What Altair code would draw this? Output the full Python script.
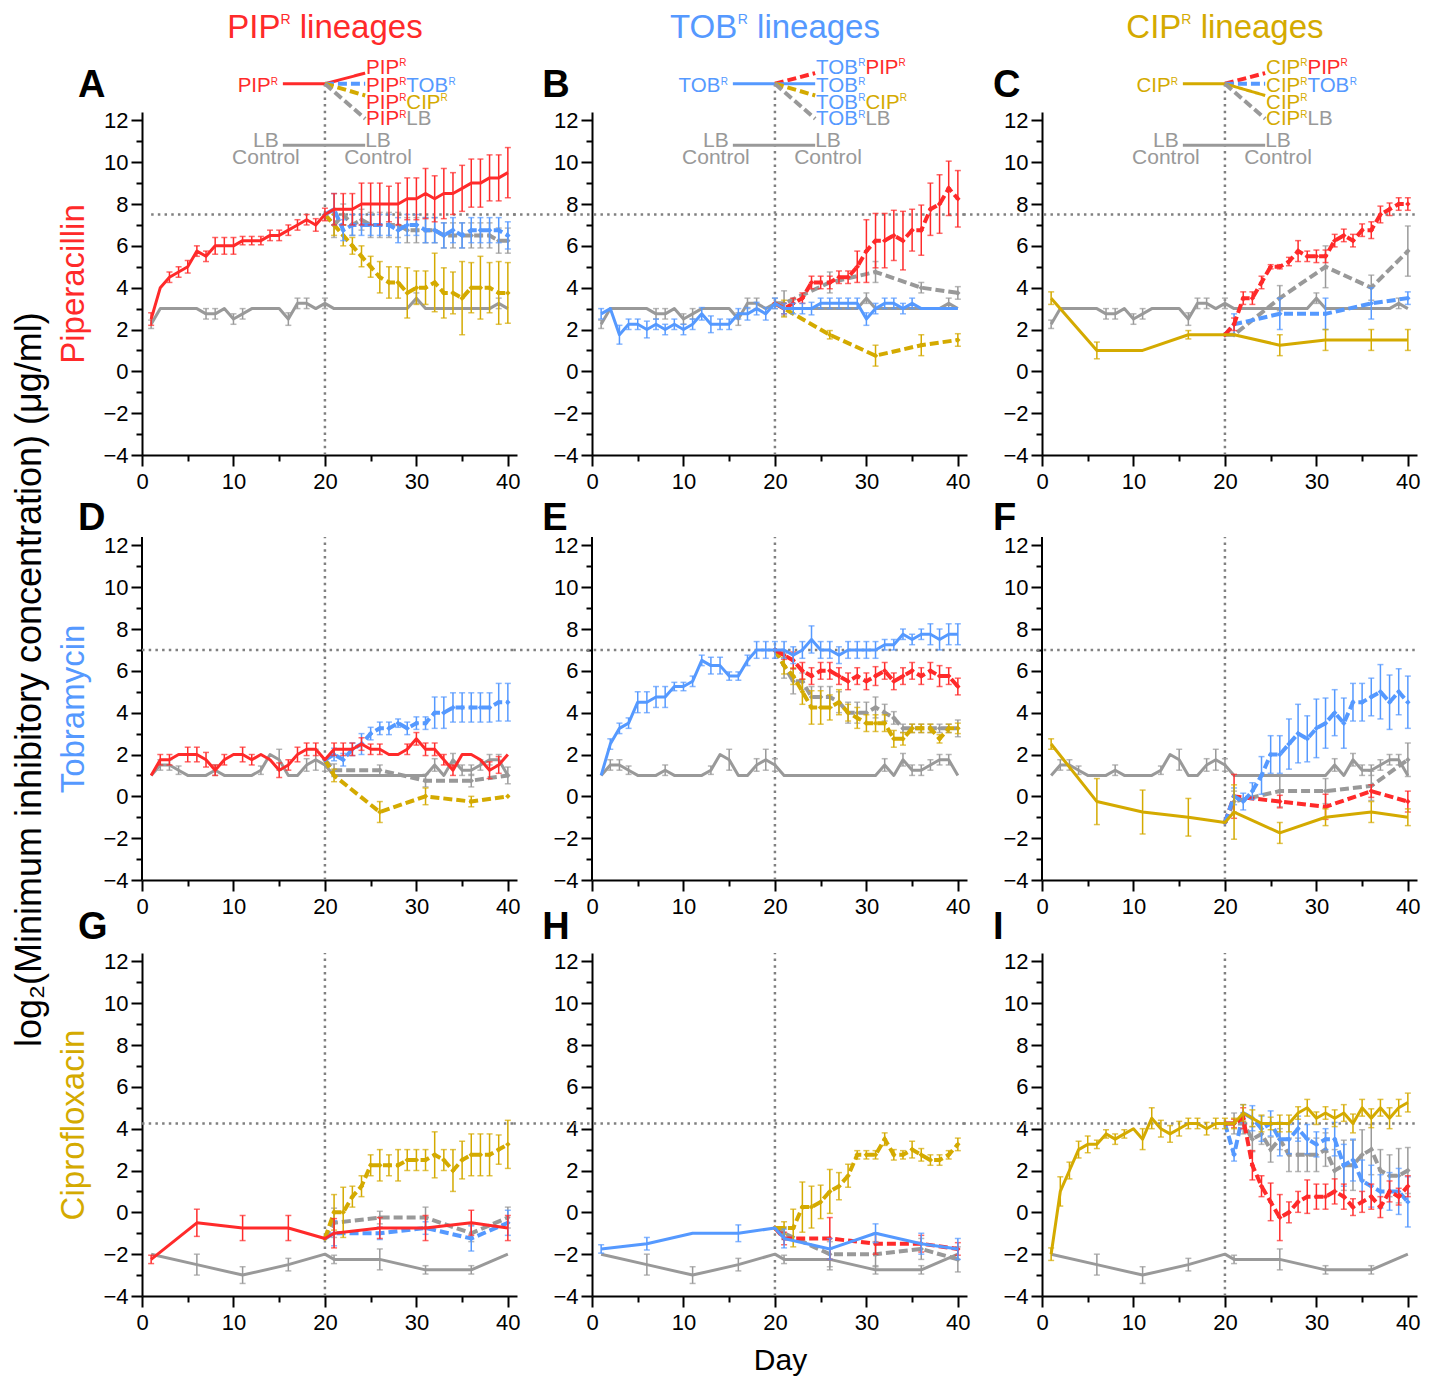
import altair as alt
import pandas as pd

FONT = "Liberation Sans"
RED = "#FF2A2A"
BLUE = "#5599FF"
GOLD = "#D4AA00"
GRAY = "#999999"
GUIDE = "#808080"

PLOT_W = 375
PLOT_H = [343, 352, 343]
X_DOMAIN = [0, 41]
Y_DOMAINS = [[-4, 12.4], [-4, 12.83], [-4, 12.4]]
Y_AXIS_TOP = 12.4
X_TICKS = [0, 5, 10, 15, 20, 25, 30, 35, 40]
Y_TICKS = [-4, -3, -2, -1, 0, 1, 2, 3, 4, 5, 6, 7, 8, 9, 10, 11, 12]

DAYS_ALL = [1, 2, 3, 4, 5, 6, 7, 8, 9, 10, 11, 12, 13, 14, 15, 16, 17, 18, 19, 20,
            21, 22, 23, 24, 25, 26, 27, 28, 29, 30, 31, 32, 33, 34, 35, 36, 37, 38, 39, 40]
DAYS_POST = [20, 21, 22, 23, 24, 25, 26, 27, 28, 29, 30, 31, 32, 33, 34, 35, 36, 37, 38, 39, 40]
SPARSE_ALL = [1, 6, 11, 16, 20, 21, 26, 31, 36, 40]
SPARSE_POST = [20, 21, 26, 31, 36, 40]

# ---------------- Row 1 : piperacillin MIC ----------------
LB_PIP = [2.25, 3, 3, 3, 3, 3, 2.75, 2.75, 3, 2.5,
          2.75, 3, 3, 3, 3, 2.5, 3.25, 3.25, 3, 3.25,
          3, 3, 3, 3, 3, 3, 3, 3, 3, 3.5,
          3, 3, 3, 3, 3, 3, 3, 3, 3.25, 3]
LB_PIP_ERR = [0.2, 0, 0, 0, 0, 0, 0.25, 0.25, 0, 0.25,
              0.25, 0, 0, 0, 0, 0.3, 0.25, 0.25, 0, 0.25,
              0, 0, 0, 0, 0, 0, 0, 0, 0, 0.25,
              0, 0, 0, 0, 0, 0, 0, 0, 0.25, 0]

A_PIP = [2.5, 4.0, 4.5, 4.75, 5.0, 5.75, 5.5, 6.0, 6.0, 6.0,
         6.25, 6.25, 6.25, 6.5, 6.5, 6.75, 7.0, 7.25, 7.0, 7.5,
         7.75, 7.75, 7.75, 8.0, 8.0, 8.0, 8.0, 8.0, 8.25, 8.25,
         8.5, 8.25, 8.5, 8.5, 8.75, 9.0, 9.0, 9.25, 9.25, 9.5]
A_PIP_ERR = [0.3, 0, 0.25, 0.25, 0.3, 0.25, 0.25, 0.4, 0.4, 0.4,
             0.2, 0.2, 0.2, 0.25, 0.25, 0.25, 0.25, 0.25, 0.3, 0.3,
             0.75, 0.75, 0.75, 1.0, 1.0, 1.0, 0.85, 1.0, 1.0, 1.0,
             1.2, 1.1, 1.2, 1.0, 1.1, 1.15, 1.15, 1.1, 1.1, 1.2]
A_TOB = [7.5, 7.75, 6.75, 7.0, 7.0, 7.0, 7.0, 7.0, 6.75, 7.0, 7.0,
         6.75, 6.75, 6.5, 6.75, 6.5, 6.75, 6.75, 6.75, 6.75, 6.5]
A_TOB_ERR = [0, 0.75, 0.5, 0.5, 0.5, 0.5, 0.5, 0.5, 0.6, 0.5, 0.5,
             0.6, 0.6, 0.6, 0.6, 0.6, 0.6, 0.6, 0.6, 0.6, 0.65]
A_LB = [7.5, 7.0, 7.5, 7.0, 7.25, 7.0, 7.0, 7.0, 7.0, 6.75, 6.75,
        6.75, 6.75, 6.5, 6.5, 6.5, 6.5, 6.5, 6.5, 6.25, 6.25]
A_LB_ERR = [0, 0.6, 0.5, 0.5, 0.5, 0.6, 0.6, 0.6, 0.6, 0.6, 0.6,
            0.6, 0.6, 0.6, 0.6, 0.6, 0.6, 0.6, 0.6, 0.6, 0.6]
A_CIP = [7.5, 7.0, 6.5, 6.0, 5.5, 5.0, 4.5, 4.25, 4.25, 3.75, 4.0,
         4.0, 4.25, 3.75, 3.75, 3.5, 4.0, 4.0, 4.0, 3.75, 3.75]
A_CIP_ERR = [0, 0.5, 0.5, 0.4, 0.5, 0.5, 0.75, 0.75, 0.75, 1.2, 0.8,
             0.8, 1.4, 1.2, 1.0, 1.75, 1.2, 1.5, 1.2, 1.5, 1.45]

B_TOB = [2.75, 3.0, 1.75, 2.25, 2.25, 2.0, 2.25, 2.0, 2.25, 2.0,
         2.25, 2.75, 2.25, 2.25, 2.25, 2.75, 2.75, 3.0, 2.75, 3.25,
         3.0, 3.0, 3.0, 3.0, 3.25, 3.25, 3.25, 3.25, 3.25, 2.5,
         3.0, 3.25, 3.25, 3.0, 3.25, 3.0, 3.0, 3.0, 3.0, 3.0]
B_TOB_ERR = [0.25, 0, 0.45, 0.25, 0.25, 0.4, 0.25, 0.25, 0.25, 0.25,
             0.25, 0.3, 0.4, 0.25, 0.25, 0.25, 0.3, 0.3, 0.3, 0.25,
             0.25, 0.25, 0.25, 0.3, 0.25, 0.25, 0.25, 0.25, 0.25, 0.3,
             0.25, 0.25, 0.25, 0.25, 0.25, 0, 0, 0, 0, 0]
B_PIP = [3.25, 3.0, 3.25, 3.5, 4.25, 4.25, 4.25, 4.5, 4.5, 5.0, 5.75,
         6.25, 6.25, 6.5, 6.25, 6.75, 6.75, 7.75, 8.0, 8.75, 8.25]
B_PIP_ERR = [0, 0.25, 0.25, 0.25, 0.3, 0.3, 0.3, 0.3, 0.3, 0.75, 1.5,
             1.3, 1.3, 1.2, 1.4, 1.0, 1.2, 1.25, 1.4, 1.3, 1.35]
B_LB = [3.25, 3.25, 4.25, 4.75, 4.0, 3.75]
B_LB_ERR = [0, 0.6, 0.5, 0.5, 0.25, 0.3]
B_CIP = [3.25, 3.0, 1.75, 0.75, 1.25, 1.5]
B_CIP_ERR = [0, 0.4, 0.2, 0.5, 0.5, 0.3]

C_CIP = [3.5, 1.0, 1.0, 1.75, 1.75, 1.75, 1.25, 1.5, 1.5, 1.5]
C_CIP_ERR = [0.3, 0.4, 0, 0.2, 0, 0, 0.5, 0.5, 0.5, 0.5]
C_PIP = [1.75, 2.25, 3.5, 3.5, 4.25, 5.0, 5.0, 5.25, 5.75, 5.5, 5.5,
         5.5, 6.25, 6.5, 6.25, 6.75, 6.75, 7.5, 7.75, 8.0, 8.0]
C_PIP_ERR = [0, 0.3, 0.3, 0.3, 0.3, 0.1, 0.1, 0.2, 0.5, 0.25, 0.3,
             0.3, 0.3, 0.3, 0.3, 0.3, 0.4, 0.4, 0.3, 0.3, 0.3]
C_TOB = [1.75, 2.25, 2.75, 2.75, 3.25, 3.5]
C_TOB_ERR = [0, 0.5, 0.75, 0.75, 0.75, 0.3]
C_LB = [1.75, 1.75, 3.5, 5.0, 4.0, 5.75]
C_LB_ERR = [0, 0, 0.6, 1.0, 0.6, 1.2]

# ---------------- Row 2 : tobramycin MIC ----------------
LB_TOB = [1.0, 1.5, 1.5, 1.25, 1.0, 1.0, 1.0, 1.25, 1.0, 1.0,
          1.0, 1.0, 1.25, 2.0, 1.75, 1.0, 1.0, 1.5, 1.75, 1.5,
          1.0, 1.0, 1.0, 1.0, 1.0, 1.0, 1.0, 1.0, 1.0, 1.0,
          1.0, 1.5, 1.0, 1.75, 1.25, 1.25, 1.5, 1.75, 1.75, 1.0]
LB_TOB_ERR = [0, 0.25, 0.25, 0.2, 0, 0, 0, 0.25, 0, 0,
              0, 0, 0.2, 0, 0.5, 0, 0, 0.3, 0.5, 0.3,
              0, 0, 0, 0, 0, 0, 0, 0, 0, 0,
              0, 0.3, 0, 0.3, 0.25, 0.25, 0.25, 0.25, 0.25, 0]

D_PIP = [1.0, 1.75, 1.75, 2.0, 2.0, 2.0, 1.75, 1.25, 1.75, 2.0,
         2.0, 1.75, 2.0, 1.75, 1.25, 1.5, 2.0, 2.25, 2.25, 1.75,
         2.25, 2.25, 2.25, 2.5, 2.25, 2.25, 2.0, 2.0, 2.25, 2.75,
         2.25, 2.25, 1.75, 1.25, 2.0, 2.0, 1.75, 1.25, 1.5, 2.0]
D_PIP_ERR = [0, 0.25, 0.25, 0, 0.35, 0.35, 0.35, 0.25, 0.25, 0,
             0.35, 0.25, 0, 0, 0.35, 0.25, 0.35, 0.3, 0.3, 0,
             0.3, 0.3, 0.3, 0.3, 0.25, 0.25, 0, 0, 0.25, 0.3,
             0.3, 0.3, 0.25, 0.25, 0, 0, 0, 0.4, 0.4, 0]
D_TOB = [1.75, 2.0, 1.75, 2.25, 2.5, 3.0, 3.25, 3.25, 3.5, 3.25, 3.5,
         3.5, 4.0, 4.0, 4.25, 4.25, 4.25, 4.25, 4.25, 4.5, 4.5]
D_TOB_ERR = [0, 0.3, 0.3, 0.3, 0.5, 0.3, 0.3, 0.3, 0.2, 0.3, 0.3,
             0.3, 0.75, 0.75, 0.7, 0.7, 0.7, 0.7, 0.7, 0.9, 0.9]
D_LB = [1.75, 1.25, 1.25, 0.75, 0.75, 1.0]
D_LB_ERR = [0, 0.3, 0.25, 0.3, 0.3, 0.4]
D_CIP = [1.75, 1.0, -0.75, 0.0, -0.25, 0.0]
D_CIP_ERR = [0, 0.3, 0.5, 0.4, 0.25, 0]

E_TOB = [1.0, 2.5, 3.25, 3.5, 4.5, 4.5, 4.75, 4.75, 5.25, 5.25,
         5.5, 6.5, 6.25, 6.25, 5.75, 5.75, 6.5, 7.0, 7.0, 7.0,
         7.0, 6.75, 7.0, 7.5, 7.0, 7.0, 6.75, 7.0, 7.0, 7.0,
         7.0, 7.25, 7.25, 7.75, 7.5, 7.75, 7.75, 7.5, 7.75, 7.75]
E_TOB_ERR = [0, 0.25, 0.25, 0.25, 0.5, 0.5, 0.5, 0.5, 0.2, 0.2,
             0.25, 0.25, 0.4, 0.4, 0.2, 0.2, 0.25, 0.4, 0.4, 0.4,
             0.4, 0.4, 0.4, 0.65, 0.4, 0.4, 0.4, 0.4, 0.4, 0.4,
             0.4, 0.25, 0.25, 0.25, 0.25, 0.25, 0.5, 0.5, 0.5, 0.5]
E_PIP = [7.0, 6.75, 6.5, 6.0, 5.75, 6.0, 6.0, 5.75, 5.5, 5.75, 5.5,
         5.75, 6.0, 5.5, 5.75, 6.0, 5.75, 6.0, 5.75, 5.75, 5.25]
E_PIP_ERR = [0, 0.2, 0.4, 0.4, 0.4, 0.4, 0.4, 0.4, 0.4, 0.4, 0.4,
             0.45, 0.4, 0.4, 0.4, 0.4, 0.4, 0.4, 0.5, 0.4, 0.4]
E_LB = [7.0, 6.25, 5.5, 5.5, 4.75, 4.75, 4.75, 4.5, 4.0, 4.0, 4.0,
        4.25, 4.0, 3.75, 3.25, 3.25, 3.25, 3.25, 3.25, 3.25, 3.25]
E_LB_ERR = [0, 0.6, 0.6, 0.4, 0.5, 0.5, 0.5, 0.5, 0.5, 0.5, 0.5,
            0.5, 0.4, 0.3, 0.2, 0.2, 0.2, 0.2, 0.2, 0.2, 0.4]
E_CIP = [7.0, 6.25, 5.75, 5.0, 4.25, 4.25, 4.25, 4.5, 4.0, 3.75, 3.5,
         3.5, 3.5, 2.75, 2.75, 3.25, 3.25, 3.25, 2.75, 3.25, 3.25]
E_CIP_ERR = [0, 0.4, 0.4, 0.6, 0.8, 0.8, 0.6, 0.6, 0.4, 0.5, 0.4,
             0.4, 0.4, 0.4, 0.3, 0.2, 0.2, 0.2, 0.2, 0.2, 0.25]

F_CIP = [2.5, -0.25, -0.75, -1.0, -1.25, -0.75, -1.75, -1.0, -0.75, -1.0]
F_CIP_ERR = [0.25, 1.1, 1.05, 0.9, 0, 1.3, 0.5, 0.4, 0.5, 0.4]
F_TOB = [-1.25, 0.0, -0.25, 0.25, 1.0, 2.0, 2.0, 2.5, 3.0, 2.75, 3.25,
         3.5, 4.0, 3.5, 4.5, 4.5, 4.75, 5.0, 4.5, 5.0, 4.5]
F_TOB_ERR = [0, 0.4, 0.4, 0.4, 0.9, 0.9, 0.9, 1.2, 1.4, 1.1, 1.4,
             1.2, 1.1, 1.2, 0.9, 0.9, 0.9, 1.3, 1.3, 1.1, 1.25]
F_PIP = [-1.25, 0.0, -0.25, -0.5, 0.25, -0.25]
F_PIP_ERR = [0, 1.05, 0.3, 0.6, 0.3, 0.5]
F_LB = [-1.25, -0.25, 0.25, 0.25, 0.5, 1.75]
F_LB_ERR = [0, 0.5, 0.75, 0.6, 0.7, 0.8]

# ---------------- Row 3 : ciprofloxacin MIC ----------------
LB_CIP = [-2.0, -2.5, -3.0, -2.5, -2.0, -2.25, -2.25, -2.75, -2.75, -2.0]
LB_CIP_ERR = [0, 0.5, 0.4, 0.3, 0, 0.2, 0.5, 0.2, 0.2, 0]

G_PIP = [-2.25, -0.5, -0.75, -0.75, -1.25, -1.0, -0.75, -0.75, -0.5, -0.75]
G_PIP_ERR = [0.2, 0.65, 0.6, 0.6, 0, 0.7, 0.5, 0.6, 0.6, 0.6]
G_TOB = [-1.25, -1.0, -1.0, -0.75, -1.25, -0.5]
G_TOB_ERR = [0, 0.6, 0.3, 0.3, 0.6, 0.6]
G_LB = [-1.25, -0.5, -0.25, -0.25, -1.0, -0.25]
G_LB_ERR = [0, 0.7, 0.3, 0.5, 0.4, 0.5]
G_CIP = [-1.25, 0.0, 0.0, 0.75, 1.25, 2.25, 2.25, 2.25, 2.25, 2.5, 2.5,
         2.5, 2.75, 2.5, 2.0, 2.5, 2.75, 2.75, 2.75, 3.0, 3.25]
G_CIP_ERR = [0, 0.85, 1.2, 0.5, 0.5, 0.5, 0.75, 0.5, 0.75, 0.5, 0.5,
             0.5, 1.1, 0.5, 1.0, 0.9, 1.0, 1.0, 1.0, 0.7, 1.15]

H_TOB = [-1.75, -1.5, -1.0, -1.0, -0.75, -1.25, -1.75, -1.0, -1.5, -1.75]
H_TOB_ERR = [0.2, 0.3, 0, 0.4, 0, 0.45, 0.5, 0.45, 0.5, 0.5]
H_PIP = [-0.75, -1.25, -1.25, -1.5, -1.5, -1.75]
H_PIP_ERR = [0, 0.3, 1.0, 0.5, 0.4, 0.3]
H_LB = [-0.75, -1.0, -2.0, -2.0, -1.75, -2.25]
H_LB_ERR = [0, 0.3, 0.6, 0.6, 0.5, 0.6]
H_CIP = [-0.75, -0.75, -0.75, 0.25, 0.25, 0.5, 1.0, 1.25, 1.75, 2.75, 2.75,
         2.75, 3.5, 2.75, 2.75, 3.0, 2.75, 2.5, 2.5, 2.75, 3.25]
H_CIP_ERR = [0, 0.3, 0.9, 1.2, 1.0, 0.8, 1.05, 0.65, 0.55, 0.2, 0.2,
             0.2, 0.3, 0.25, 0.2, 0.4, 0.3, 0.25, 0.25, 0.2, 0.3]

I_CIP = [-2.0, 1.0, 2.0, 3.0, 3.25, 3.25, 3.75, 3.5, 3.75, 4.0,
         3.5, 4.5, 4.0, 3.75, 4.0, 4.25, 4.25, 4.0, 4.25, 4.25,
         4.25, 4.75, 4.5, 4.25, 4.25, 4.25, 4.25, 4.75, 5.0, 4.5,
         4.75, 4.5, 4.75, 4.25, 5.0, 4.5, 5.0, 4.5, 5.0, 5.25]
I_CIP_ERR = [0.3, 0.7, 0.4, 0.4, 0.4, 0.2, 0.2, 0.25, 0.2, 0,
             0.5, 0.5, 0.4, 0.4, 0.35, 0.25, 0.25, 0.3, 0.25, 0.25,
             0.25, 0.4, 0.4, 0.4, 0.3, 0.4, 0.4, 0.3, 0.4, 0.3,
             0.3, 0.4, 0.4, 0.45, 0.4, 0.45, 0.4, 0.5, 0.4, 0.45]
I_PIP = [4.25, 4.25, 4.5, 2.25, 1.25, 0.5, -0.25, 0.0, 0.5, 0.75, 0.75,
         0.75, 1.0, 0.75, 0.25, 0.5, 0.75, 0.25, 1.0, 0.75, 1.25]
I_PIP_ERR = [0, 0.2, 0.5, 0.7, 0.5, 0.9, 1.1, 0.5, 0.5, 0.8, 0.6,
             0.6, 0.6, 0.6, 0.4, 0.5, 0.6, 0.5, 0.5, 0.4, 0.5]
I_TOB = [4.25, 2.75, 4.75, 4.5, 4.0, 4.25, 3.5, 3.5, 4.0, 3.5, 3.25,
         3.5, 3.5, 2.25, 2.5, 1.5, 1.25, 1.0, 1.0, 1.0, 0.5]
I_TOB_ERR = [0, 0.3, 0.4, 0.6, 0.6, 0.6, 0.8, 0.7, 0.6, 0.7, 0.6,
             0.5, 0.8, 1.0, 1.0, 1.0, 1.0, 0.8, 0.9, 1.1, 1.2]
I_LB = [4.25, 4.25, 4.25, 3.5, 3.75, 3.0, 3.5, 2.75, 2.75, 2.75, 2.75,
        3.0, 2.0, 2.25, 2.25, 2.75, 3.0, 2.0, 1.75, 1.75, 2.0]
I_LB_ERR = [0, 0.5, 0.5, 0.6, 0.5, 0.6, 0.5, 0.8, 0.8, 0.8, 0.8,
            0.8, 1.0, 1.2, 1.2, 1.2, 1.2, 1.0, 1.0, 1.3, 1.1]

# ---------------- panel definitions ----------------
PANEL_SERIES = {
    "A": [(DAYS_ALL, LB_PIP, LB_PIP_ERR, GRAY, "solid"),
          (DAYS_POST, A_LB, A_LB_ERR, GRAY, "dash"),
          (DAYS_POST, A_CIP, A_CIP_ERR, GOLD, "dash"),
          (DAYS_POST, A_TOB, A_TOB_ERR, BLUE, "dash"),
          (DAYS_ALL, A_PIP, A_PIP_ERR, RED, "solid")],
    "B": [(DAYS_ALL, LB_PIP, LB_PIP_ERR, GRAY, "solid"),
          (SPARSE_POST, B_LB, B_LB_ERR, GRAY, "dash"),
          (SPARSE_POST, B_CIP, B_CIP_ERR, GOLD, "dash"),
          (DAYS_POST, B_PIP, B_PIP_ERR, RED, "dash"),
          (DAYS_ALL, B_TOB, B_TOB_ERR, BLUE, "solid")],
    "C": [(DAYS_ALL, LB_PIP, LB_PIP_ERR, GRAY, "solid"),
          (SPARSE_POST, C_LB, C_LB_ERR, GRAY, "dash"),
          (SPARSE_POST, C_TOB, C_TOB_ERR, BLUE, "dash"),
          (DAYS_POST, C_PIP, C_PIP_ERR, RED, "dash"),
          (SPARSE_ALL, C_CIP, C_CIP_ERR, GOLD, "solid")],
    "D": [(DAYS_ALL, LB_TOB, LB_TOB_ERR, GRAY, "solid"),
          (SPARSE_POST, D_LB, D_LB_ERR, GRAY, "dash"),
          (SPARSE_POST, D_CIP, D_CIP_ERR, GOLD, "dash"),
          (DAYS_POST, D_TOB, D_TOB_ERR, BLUE, "dash"),
          (DAYS_ALL, D_PIP, D_PIP_ERR, RED, "solid")],
    "E": [(DAYS_ALL, LB_TOB, LB_TOB_ERR, GRAY, "solid"),
          (DAYS_POST, E_LB, E_LB_ERR, GRAY, "dash"),
          (DAYS_POST, E_CIP, E_CIP_ERR, GOLD, "dash"),
          (DAYS_POST, E_PIP, E_PIP_ERR, RED, "dash"),
          (DAYS_ALL, E_TOB, E_TOB_ERR, BLUE, "solid")],
    "F": [(DAYS_ALL, LB_TOB, LB_TOB_ERR, GRAY, "solid"),
          (SPARSE_POST, F_LB, F_LB_ERR, GRAY, "dash"),
          (SPARSE_POST, F_PIP, F_PIP_ERR, RED, "dash"),
          (DAYS_POST, F_TOB, F_TOB_ERR, BLUE, "dash"),
          (SPARSE_ALL, F_CIP, F_CIP_ERR, GOLD, "solid")],
    "G": [(SPARSE_ALL, LB_CIP, LB_CIP_ERR, GRAY, "solid"),
          (SPARSE_POST, G_LB, G_LB_ERR, GRAY, "dash"),
          (SPARSE_POST, G_TOB, G_TOB_ERR, BLUE, "dash"),
          (DAYS_POST, G_CIP, G_CIP_ERR, GOLD, "dash"),
          (SPARSE_ALL, G_PIP, G_PIP_ERR, RED, "solid")],
    "H": [(SPARSE_ALL, LB_CIP, LB_CIP_ERR, GRAY, "solid"),
          (SPARSE_POST, H_LB, H_LB_ERR, GRAY, "dash"),
          (SPARSE_POST, H_PIP, H_PIP_ERR, RED, "dash"),
          (DAYS_POST, H_CIP, H_CIP_ERR, GOLD, "dash"),
          (SPARSE_ALL, H_TOB, H_TOB_ERR, BLUE, "solid")],
    "I": [(SPARSE_ALL, LB_CIP, LB_CIP_ERR, GRAY, "solid"),
          (DAYS_POST, I_LB, I_LB_ERR, GRAY, "dash"),
          (DAYS_POST, I_TOB, I_TOB_ERR, BLUE, "dash"),
          (DAYS_POST, I_PIP, I_PIP_ERR, RED, "dash"),
          (DAYS_ALL, I_CIP, I_CIP_ERR, GOLD, "solid")],
}

LETTERS = [["A", "B", "C"], ["D", "E", "F"], ["G", "H", "I"]]
DRUGS = ["Piperacillin", "Tobramycin", "Ciprofloxacin"]
DRUG_COLORS = [RED, BLUE, GOLD]
LINEAGES = ["PIP", "TOB", "CIP"]
BREAKPOINTS = [7.5, 7.0, 4.25]
BIG_TITLE = "log\u2082(Minimum inhibitory concentration) (\u03bcg/ml)"

# annotation anchor positions (data units: day, log2 MIC)
LETTER_X = [-7.0, -5.45, -5.35]
LETTER_Y = [13.11, 12.73, 13.05]
GUIDE_LEFT_X = [[1.0, -8.6, -8.6], [0.0, -8.6, -8.6], [0.0, -8.6, -8.6]]
COL_TITLE_Y = 15.94
DIAG_X = [15.4, 20.0, 24.4]
DIAG_PARENT_Y = 13.75
BRANCH_END_Y = [14.26, 13.75, 13.19, 12.08]
BRANCH_COLORS = [RED, BLUE, GOLD, GRAY]
BRANCH_LABEL_X = 24.5
BRANCH_LABEL_Y = [14.23, 13.35, 12.55, 11.76]
PARENT_LABEL_X = 14.86
PARENT_LABEL_Y = 13.35
LB_LINE_Y = 10.81
LB_TEXT_X = [13.55, 25.8]
LB_TEXT_Y = [10.75, 9.9]
BIG_TITLE_POS = [-12.25, 5.58]
BIG_TITLE_SIZE = 36

CW = {"A": 667, "B": 667, "C": 722, "D": 722, "I": 278, "L": 556, "O": 778,
      "P": 667, "R": 722, "T": 611, " ": 278, "a": 556, "c": 500, "e": 556,
      "g": 556, "i": 222, "l": 222, "n": 556, "o": 556, "r": 333, "s": 500,
      "t": 278}


def text_width(s, size):
    return sum(CW.get(ch, 556) for ch in s) * size / 1000.0


def make_encoders(xaxis, yaxis, ydomain):
    xs = alt.Scale(domain=X_DOMAIN, nice=False, zero=False)
    ys = alt.Scale(domain=ydomain, nice=False, zero=False)

    def X(f):
        return alt.X(f"{f}:Q", scale=xs, axis=xaxis)

    def Y(f):
        return alt.Y(f"{f}:Q", scale=ys, axis=yaxis)
    return X, Y


def text_layer(X, Y, x, y, txt, color, size, dx=0, dy=0, align="left",
               baseline="alphabetic", weight="normal", angle=0):
    df = pd.DataFrame({"day": [x], "value": [y], "label": [txt]})
    return alt.Chart(df).mark_text(
        align=align, baseline=baseline, dx=dx, dy=dy, fontSize=size,
        color=color, font=FONT, fontWeight=weight, angle=angle
    ).encode(x=X("day"), y=Y("value"), text="label:N")


def rich_text(X, Y, x, y, pieces, size, sup_size, anchor="left"):
    widths = [text_width(t, sup_size if s else size) for t, c, s in pieces]
    total = sum(widths)
    off = {"left": 0.0, "center": -total / 2.0, "right": -total}[anchor]
    out = []
    for (t, c, s), w in zip(pieces, widths):
        fs = sup_size if s else size
        dy = -0.716 * (size - sup_size) if s else 0
        lead = len(t) - len(t.lstrip(" "))
        shift = text_width(" " * lead, fs)
        out.append(text_layer(X, Y, x, y, t.strip(" "), c, fs,
                              dx=round(off + shift, 2), dy=round(dy, 2)))
        off += w
    return out


def segment(X, Y, x1, y1, x2, y2, color, width, dash):
    df = pd.DataFrame({"day": [x1], "value": [y1], "day2": [x2], "value2": [y2]})
    return alt.Chart(df).mark_rule(color=color, strokeWidth=width, strokeDash=dash).encode(
        x=X("day"), y=Y("value"), x2=alt.X2("day2"), y2=alt.Y2("value2"))


SOLID = [1, 0]
DASH = [9, 4]
DOT = [2.5, 4.2]


def series_layers(X, Y, days, vals, errs, color, style):
    df = pd.DataFrame({"day": days, "value": vals, "err": errs})
    df["lo"] = df["value"] - df["err"]
    df["hi"] = df["value"] + df["err"]
    e = df[df["err"] > 0]
    caps = pd.concat([e[["day", "lo"]].rename(columns={"lo": "cap"}),
                      e[["day", "hi"]].rename(columns={"hi": "cap"})])
    out = [
        alt.Chart(e).mark_rule(color=color, strokeWidth=1.5).encode(
            x=X("day"), y=Y("lo"), y2=alt.Y2("hi")),
        alt.Chart(caps).mark_tick(color=color, orient="horizontal", size=6, thickness=1.5).encode(
            x=X("day"), y=Y("cap")),
    ]
    if style == "solid":
        out.append(alt.Chart(df).mark_line(color=color, strokeWidth=3, strokeJoin="round").encode(
            x=X("day"), y=Y("value")))
    else:
        out.append(alt.Chart(df).mark_line(color=color, strokeWidth=4, strokeDash=DASH).encode(
            x=X("day"), y=Y("value")))
        out.append(alt.Chart(df).mark_point(shape="diamond", filled=True, size=30, opacity=1,
                                            color=color).encode(x=X("day"), y=Y("value")))
    return out


AXIS_COMMON = dict(domainColor="black", domainWidth=2, tickColor="black", tickWidth=2,
                   labelColor="black", labelFont=FONT, labelFontSize=22, labelOverlap=False,
                   labelFlush=False, grid=False, titleFont=FONT, titleFontWeight="normal")


def panel(r, c):
    letter = LETTERS[r][c]
    xkw = dict(values=X_TICKS,
               labelExpr="datum.value % 10 === 0 ? datum.label : ''",
               tickSize={"condition": {"test": "datum.value % 10 !== 0", "value": 6}, "value": 11},
               labelPadding=5, **AXIS_COMMON)
    if letter == "H":
        xkw.update(title="Day", titleFontSize=30, titleColor="black", titleX=188, titleY=73,
                   titleAlign="center", titleBaseline="alphabetic")
    else:
        xkw.update(title=None)
    ykw = dict(values=Y_TICKS,
               labelExpr="datum.value % 2 === 0 ? datum.label : ''",
               tickSize={"condition": {"test": "datum.value % 2 !== 0", "value": 6}, "value": 11},
               labelPadding=3, **AXIS_COMMON)
    ydom = Y_DOMAINS[r]
    if ydom[1] > Y_AXIS_TOP:
        ykw["domain"] = False
    if c == 0:
        ykw.update(title=DRUGS[r], titleColor=DRUG_COLORS[r], titleFontSize=33,
                   titleX=-69, titleY=PLOT_H[r] - (Y_AXIS_TOP + 4) * PLOT_H[r] / (ydom[1] + 4) / 2,
                   titleAngle=270, titleAlign="center", titleBaseline="middle")
    else:
        ykw.update(title=None)
    X, Y = make_encoders(alt.Axis(**xkw), alt.Axis(**ykw), ydom)

    layers = []
    if ydom[1] > Y_AXIS_TOP:
        layers.append(segment(X, Y, 0, ydom[0], 0, Y_AXIS_TOP, "black", 2, SOLID))
    # guide lines (breakpoint + switch day)
    top = DIAG_PARENT_Y if r == 0 else Y_AXIS_TOP
    layers.append(segment(X, Y, GUIDE_LEFT_X[r][c], BREAKPOINTS[r], X_DOMAIN[1], BREAKPOINTS[r],
                          GUIDE, 2.5, DOT))
    layers.append(segment(X, Y, 20, ydom[0], 20, top, GUIDE, 2.5, DOT))

    for days, vals, errs, color, style in PANEL_SERIES[letter]:
        layers += series_layers(X, Y, days, vals, errs, color, style)

    # panel letter
    layers.append(text_layer(X, Y, LETTER_X[c], LETTER_Y[r], letter, "black", 38, weight="bold"))

    if r == 0:
        lin, lcol = LINEAGES[c], DRUG_COLORS[c]
        layers += rich_text(X, Y, 20, COL_TITLE_Y,
                            [(lin, lcol, False), ("R", lcol, True), (" lineages", lcol, False)],
                            33, 14, anchor="center")
        layers.append(segment(X, Y, DIAG_X[0], DIAG_PARENT_Y, DIAG_X[1], DIAG_PARENT_Y, lcol, 3, SOLID))
        for i in range(4):
            solid = (i == c)
            layers.append(segment(X, Y, DIAG_X[1], DIAG_PARENT_Y, DIAG_X[2], BRANCH_END_Y[i],
                                  BRANCH_COLORS[i], 3 if solid else 4, SOLID if solid else DASH))
        layers += rich_text(X, Y, PARENT_LABEL_X, PARENT_LABEL_Y,
                            [(lin, lcol, False), ("R", lcol, True)], 20.5, 10, anchor="right")
        others = [("PIP", RED), ("TOB", BLUE), ("CIP", GOLD), ("LB", GRAY)]
        for i in range(4):
            pieces = [(lin, lcol, False), ("R", lcol, True)]
            if i != c:
                name, oc = others[i]
                pieces.append((name, oc, False))
                if name != "LB":
                    pieces.append(("R", oc, True))
            layers += rich_text(X, Y, BRANCH_LABEL_X, BRANCH_LABEL_Y[i], pieces, 20.5, 10)
        layers.append(segment(X, Y, DIAG_X[0], LB_LINE_Y, DIAG_X[2], LB_LINE_Y, GRAY, 3, SOLID))
        for lx in LB_TEXT_X:
            layers.append(text_layer(X, Y, lx, LB_TEXT_Y[0], "LB", GRAY, 21, align="center"))
            layers.append(text_layer(X, Y, lx, LB_TEXT_Y[1], "Control", GRAY, 21, align="center"))

    if letter == "D":
        layers.append(text_layer(X, Y, BIG_TITLE_POS[0], BIG_TITLE_POS[1], BIG_TITLE, "black",
                                 BIG_TITLE_SIZE, align="center", baseline="middle", angle=270))

    return alt.layer(*layers).properties(width=PLOT_W, height=PLOT_H[r])


panels = [panel(r, c) for r in range(3) for c in range(3)]
chart = alt.concat(*panels, columns=3, spacing={"row": 73, "column": 75}, bounds="flush").properties(
    padding={"left": 3, "top": 3, "right": 5, "bottom": 5}
).configure_view(strokeWidth=0)

chart.save("out.html", embed_options={"renderer": "svg", "actions": False})
